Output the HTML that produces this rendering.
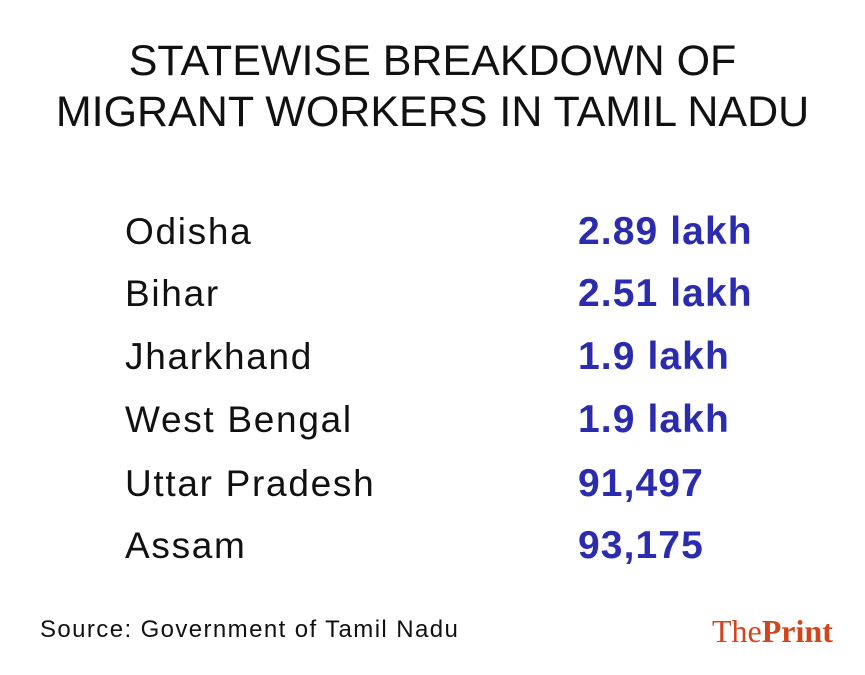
<!DOCTYPE html>
<html><head><meta charset="utf-8"><style>
body{margin:0;width:865px;height:675px;background:#fff;position:relative;overflow:hidden;font-family:"Liberation Sans",sans-serif;color:#111}
.t{position:absolute;left:0;width:865px;text-align:center;font-size:43px;line-height:1;letter-spacing:0px}
.r{position:absolute;left:125px;font-size:37px;line-height:1;letter-spacing:1.7px}
.v{position:absolute;left:578px;font-size:39px;font-weight:bold;color:#2b2bb0;line-height:1;letter-spacing:1.1px}
</style></head><body>
<div class="t" style="top:40px">STATEWISE BREAKDOWN OF</div>
<div class="t" style="top:91px">MIGRANT WORKERS IN TAMIL NADU</div>
<div class="r" style="top:213px">Odisha</div><div class="v" style="top:212px">2.89 lakh</div>
<div class="r" style="top:275px">Bihar</div><div class="v" style="top:274px">2.51 lakh</div>
<div class="r" style="top:338px">Jharkhand</div><div class="v" style="top:337px">1.9 lakh</div>
<div class="r" style="top:401px">West Bengal</div><div class="v" style="top:400px">1.9 lakh</div>
<div class="r" style="top:465px">Uttar Pradesh</div><div class="v" style="top:464px">91,497</div>
<div class="r" style="top:527px">Assam</div><div class="v" style="top:526px">93,175</div>
<div style="position:absolute;left:40px;top:616px;font-size:24px;letter-spacing:1.4px">Source: Government of Tamil Nadu</div>
<div style="position:absolute;left:712px;top:613px;font-family:'Liberation Serif',serif;font-size:32px;color:#d4441c">The<b>Print</b></div>
</body></html>
